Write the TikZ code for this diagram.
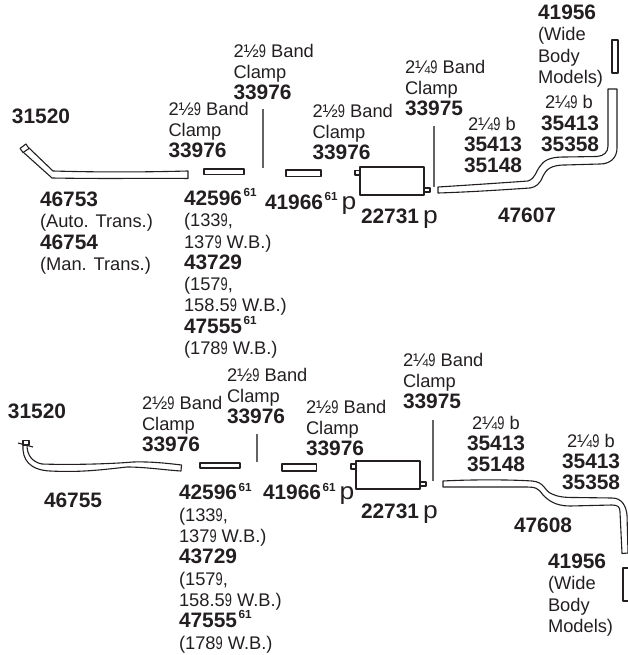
\documentclass[tikz,border=0pt]{standalone}
\usepackage{fontspec}
\setmainfont{Liberation Sans}
\definecolor{ink}{HTML}{231F20}
\newcommand\nn{\scalebox{.7}[1]{9}}
\newcommand\bld{\fontsize{20.9}{21.3}\selectfont\bfseries}
\newcommand\sups{\kern1.5pt\raisebox{.42em}{\fontsize{11.7}{11.7}\selectfont\bfseries 61}}
\newcommand\bigp{\kern4pt\scalebox{1.1}[1]{\fontsize{24}{21.3}\selectfont\mdseries p}}
\newcommand\half{2½\nn}
\newcommand\quart{2¼\nn}
\tikzset{
  lab/.style={inner sep=0pt,outer sep=0pt,anchor=north west,align=left,yshift=15pt,text=ink,
    font=\fontsize{18.3}{21.3}\selectfont,execute at begin node={\rule{0pt}{15pt}}},
  part/.style={draw=ink,line width=1.1pt,fill=white,line join=round},
  lead/.style={draw=ink!70,line width=1.2pt}
}
\begin{document}
\begin{tikzpicture}[x=1pt,y=-1pt]
\path[use as bounding box] (0,0) rectangle (628,655);
% ---- upper system: parts
\draw[part] (29,148) -- (53,171) .. controls (90,172) and (130,172.5) .. (188,171) -- (188,178.5)
  .. controls (150,178) and (110,179) .. (52,178) -- (23,152) -- cycle;
\draw[part] (20,148.5) -- (26,144) -- (29,148.5) -- (23,152.5) -- cycle;
\draw[part] (204,169) rectangle (244,174.5);
\draw[lead] (263,109) -- (263,168);
\draw[part] (286,170) rectangle (321,176.7);
\draw[part] (355,170.5) rectangle (360,175);
\draw[part] (424,188) rectangle (430,192);
\draw[part] (360,167) rectangle (424,195);
\draw[lead] (434,126) -- (434,187);
\draw[part] (438,187) .. controls (470,185) and (500,183) .. (528,181)
  .. controls (536,178) and (535,172) .. (541,165)
  .. controls (546,158) and (555,157) .. (565,157)
  -- (597,156.5) .. controls (604,156) and (608,152) .. (608,146) -- (608,89) -- (617,89) -- (617,148)
  .. controls (617,158) and (610,164) .. (600,164)
  -- (565,165) .. controls (550,165) and (546,170) .. (543,176)
  .. controls (540,184) and (536,187) .. (530,188)
  .. controls (500,190) and (470,192) .. (438,193) -- cycle;
\draw[part] (612,40) rectangle (618,73);
% ---- upper system: labels
\node[lab] (a1) at (12,124) {\bld 31520};
\node[lab] (a2) at (168.5,117) {\half\ Band\\Clamp\\{\bld 33976}};
\node[lab] (a3) at (233.5,59) {\half\ Band\\Clamp\\{\bld 33976}};
\node[lab] (a4) at (312.5,119) {\half\ Band\\Clamp\\{\bld 33976}};
\node[lab] (a5) at (405,75) {\quart\ Band\\Clamp\\{\bld 33975}};
\node[lab] (a6) at (538,20) {{\bld 41956}\\(Wide\\Body\\Models)};
\node[lab] (a7) at (541,110.5) {\kern4pt\quart\ b\\{\bld 35413}\\{\bld 35358}};
\node[lab] (a8) at (464,132) {\kern4pt\quart\ b\\{\bld 35413}\\{\bld 35148}};
\node[lab] (a9) at (498,222) {\bld 47607};
\node[lab] (a10) at (361,223) {{\bld 22731}\bigp};
\node[lab] (a11) at (265,207.5) {{\bld 41966\sups}\bigp};
\node[lab] (a12) at (184,203.5) {{\bld 42596\sups}\\(133\nn,\\137\nn\ W.B.)\\{\bld 43729}\\(157\nn,\\158.5\nn\ W.B.)\\{\bld 47555\sups}\\(178\nn\ W.B.)};
\node[lab] (a13) at (40,207) {{\bld 46753}\\(Auto. Trans.)\\{\bld 46754}\\(Man. Trans.)};
% ---- lower system: parts
\draw[part] (23,445) .. controls (22,460) and (30,470) .. (50,471)
  .. controls (80,472.5) and (100,470) .. (127,467)
  .. controls (145,467) and (165,470) .. (181,471) -- (181.5,465)
  .. controls (165,463) and (150,461.5) .. (133,462)
  .. controls (110,464) and (70,465) .. (42,464)
  .. controls (32,462) and (27,455) .. (27,445) -- cycle;
\draw[part] (23,440.5) rectangle (29,445);
\draw[part] (18,443) -- (33,447);
\draw[part] (200,463) rectangle (240,468);
\draw[lead] (257,434) -- (257,462);
\draw[part] (282,464) rectangle (316.7,471);
\draw[part] (351,464) rectangle (356,469);
\draw[part] (420,482) rectangle (426,486);
\draw[part] (356,461) rectangle (420,489);
\draw[lead] (433,420) -- (433,481);
\draw[part] (443,481) .. controls (470,479.5) and (510,479.5) .. (532,481)
  .. controls (545,482) and (544,491) .. (552,494)
  .. controls (558,497) and (565,497.5) .. (575,497.5)
  -- (612,498) .. controls (622,498) and (626,506) .. (627,515)
  -- (628,553) -- (622,553.5) -- (620,512)
  .. controls (620,507) and (618,505) .. (612,505)
  -- (570,506) .. controls (555,506) and (548,500) .. (543,495)
  .. controls (538,488) and (536,487) .. (525,487)
  -- (443,487) -- cycle;
\draw[part,fill=none] (628,568) -- (623,568) -- (623,601) -- (628,601);
% ---- lower system: labels
\node[lab] (b1) at (8,418) {\bld 31520};
\node[lab] (b2) at (142,411) {\half\ Band\\Clamp\\{\bld 33976}};
\node[lab] (b3) at (227,383) {\half\ Band\\Clamp\\{\bld 33976}};
\node[lab] (b4) at (306,415) {\half\ Band\\Clamp\\{\bld 33976}};
\node[lab] (b5) at (403,368) {\quart\ Band\\Clamp\\{\bld 33975}};
\node[lab] (b6) at (467,431) {\kern5pt\quart\ b\\{\bld 35413}\\{\bld 35148}};
\node[lab] (b7) at (562,449) {\kern5pt\quart\ b\\{\bld 35413}\\{\bld 35358}};
\node[lab] (b8) at (514,532) {\bld 47608};
\node[lab] (b9) at (548,569) {{\bld 41956}\\(Wide\\Body\\Models)};
\node[lab] (b10) at (361,518) {{\bld 22731}\bigp};
\node[lab] (b11) at (263,498) {{\bld 41966\sups}\bigp};
\node[lab] (b12) at (179,498) {{\bld 42596\sups}\\(133\nn,\\137\nn\ W.B.)\\{\bld 43729}\\(157\nn,\\158.5\nn\ W.B.)\\{\bld 47555\sups}\\(178\nn\ W.B.)};
\node[lab] (b13) at (44,507) {\bld 46755};
\end{tikzpicture}
\end{document}
